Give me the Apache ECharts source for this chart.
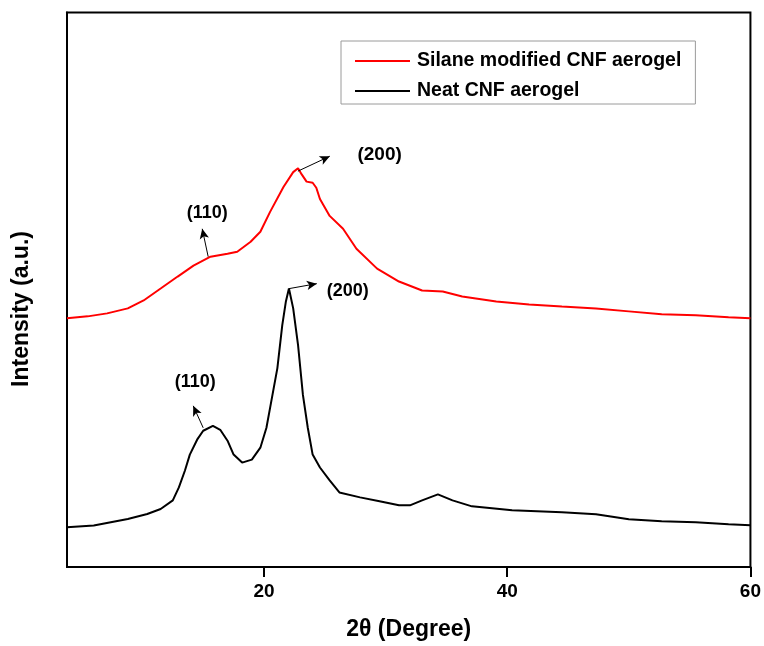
<!DOCTYPE html>
<html>
<head>
<meta charset="utf-8">
<script src="https://cdn.jsdelivr.net/npm/echarts@6/dist/echarts.min.js"></script>
<style>
html,body{margin:0;padding:0;background:#fff;}
#chart{width:764px;height:646px;}
</style>
</head>
<body>
<div id="chart"></div>
<script>
// 2θ (degree) readings and intensities (a.u., arbitrary 0-100 scale)
const neatX = [3.8, 6.0, 8.8, 10.4, 11.5, 12.5, 13.0, 13.5, 13.9, 14.5, 15.0, 15.8, 16.4, 17.0, 17.5, 18.2, 19.0, 19.7, 20.2, 20.5, 21.1, 21.5, 21.8, 22.05, 22.4, 22.8, 23.2, 23.6, 24.0, 24.6, 25.4, 26.2, 27.9, 29.5, 31.1, 32.0, 33.0, 34.3, 35.5, 37.1, 40.4, 44.5, 47.3, 50.0, 52.7, 55.5, 58.2, 60.0];
const neatY = [7.17, 7.48, 8.66, 9.56, 10.46, 12.02, 14.35, 17.40, 20.27, 22.96, 24.57, 25.47, 24.75, 22.78, 20.27, 18.83, 19.37, 21.52, 25.11, 28.70, 35.87, 43.59, 47.89, 50.22, 46.64, 40.00, 31.03, 25.11, 20.27, 17.94, 15.61, 13.45, 12.56, 11.84, 11.12, 11.12, 12.02, 13.09, 12.02, 10.94, 10.22, 9.87, 9.51, 8.61, 8.25, 8.07, 7.71, 7.53];

const silaneX = [3.8, 5.5, 7.1, 8.8, 10.1, 11.5, 12.9, 14.2, 15.6, 17.0, 17.8, 18.9, 19.7, 20.5, 21.6, 22.4, 22.8, 23.1, 23.5, 24.0, 24.3, 24.6, 25.4, 26.5, 27.6, 29.3, 31.1, 33.0, 34.7, 36.3, 39.1, 41.8, 44.5, 47.3, 50.0, 52.7, 55.5, 58.2, 60.0];
const silaneY = [44.84, 45.20, 45.74, 46.64, 48.07, 50.22, 52.38, 54.35, 55.96, 56.50, 56.86, 58.65, 60.45, 64.04, 68.52, 71.21, 71.93, 70.80, 69.50, 69.30, 68.40, 66.37, 63.32, 60.99, 57.40, 53.81, 51.48, 49.87, 49.69, 48.79, 47.89, 47.35, 46.99, 46.64, 46.10, 45.56, 45.38, 45.02, 44.84];

const seriesNames = ['Silane modified CNF aerogel', 'Neat CNF aerogel'];
const xTicks = [20, 40, 60];

// peak annotations: arrow start, arrow end, label position (data coords)
const silaneNotes = [
  {label: '(110)', from: [15.41, 55.96], to: [14.92, 60.99], at: [15.33, 63.86], size: 18},
  {label: '(200)', from: [22.79, 71.39], to: [25.41, 74.08], at: [29.51, 74.26], size: 19}
];
const neatNotes = [
  {label: '(110)', from: [15.0, 25.1], to: [14.18, 29.06], at: [14.34, 33.36], size: 18},
  {label: '(200)', from: [22.05, 50.2], to: [24.34, 51.1], at: [26.89, 49.7], size: 18}
];

function zip(xs, ys) { return xs.map((x, i) => [x, ys[i]]); }
function arrows(notes) {
  return {
    silent: true,
    symbol: ['none', 'arrow'],
    symbolSize: [7, 10],
    lineStyle: {color: '#000', width: 1, type: 'solid'},
    label: {show: false},
    emphasis: {disabled: true},
    data: notes.map(n => [{coord: n.from}, {coord: n.to}])
  };
}
function labels(notes) {
  return {
    silent: true,
    symbol: 'circle',
    symbolSize: 1,
    itemStyle: {color: 'rgba(0,0,0,0)'},
    label: {
      show: true, position: 'inside', color: '#000',
      fontFamily: 'Liberation Sans, Arial, sans-serif', fontWeight: 'bold',
      formatter: p => p.name
    },
    data: notes.map(n => ({name: n.label, coord: n.at, label: {fontSize: n.size}}))
  };
}

const FONT = 'Liberation Sans, Arial, sans-serif';
const chart = echarts.init(document.getElementById('chart'), null, {renderer: 'canvas'});
chart.setOption({
  animation: false,
  backgroundColor: '#fff',
  grid: {left: 67, right: 12, top: 12.5, bottom: 76, show: true, borderColor: '#000', borderWidth: 2, backgroundColor: 'transparent'},
  legend: {
    orient: 'vertical',
    left: 341, top: 41,
    padding: [10, 14, 3, 14],
    icon: 'rect',
    itemWidth: 55, itemHeight: 2, itemGap: 10,
    borderColor: '#9a9a9a', borderWidth: 1,
    textStyle: {fontFamily: FONT, fontWeight: 'bold', fontSize: 19.5, color: '#000', padding: [0, 0, 0, 2]},
    data: seriesNames
  },
  xAxis: {
    type: 'value', min: 3.8, max: 60,
    name: '2θ (Degree)', nameLocation: 'middle', nameGap: 51,
    nameTextStyle: {fontFamily: FONT, fontWeight: 'bold', fontSize: 23, color: '#000'},
    axisLine: {show: true, lineStyle: {color: '#000', width: 2}},
    axisTick: {show: true, inside: false, length: 10, lineStyle: {color: '#000', width: 2}, customValues: xTicks},
    axisLabel: {fontFamily: FONT, fontWeight: 'bold', fontSize: 19, color: '#000', margin: 15, customValues: xTicks},
    splitLine: {show: false}
  },
  yAxis: {
    type: 'value', min: 0, max: 100,
    axisLine: {show: true, lineStyle: {color: '#000', width: 2}},
    axisTick: {show: false},
    axisLabel: {show: false},
    splitLine: {show: false}
  },
  graphic: [{
    type: 'text', x: 22, y: 309, rotation: Math.PI / 2,
    style: {text: 'Intensity (a.u.)', fontFamily: FONT, fontWeight: 'bold', fontSize: 23, fill: '#000', align: 'center', verticalAlign: 'middle'}
  }],
  series: [
    {
      name: seriesNames[0], type: 'line', symbol: 'none', smooth: false,
      color: '#ff0000', lineStyle: {color: '#ff0000', width: 2},
      data: zip(silaneX, silaneY),
      markLine: arrows(silaneNotes),
      markPoint: labels(silaneNotes)
    },
    {
      name: seriesNames[1], type: 'line', symbol: 'none', smooth: false,
      color: '#000000', lineStyle: {color: '#000000', width: 2},
      data: zip(neatX, neatY),
      markLine: arrows(neatNotes),
      markPoint: labels(neatNotes)
    }
  ]
});
</script>
</body>
</html>
